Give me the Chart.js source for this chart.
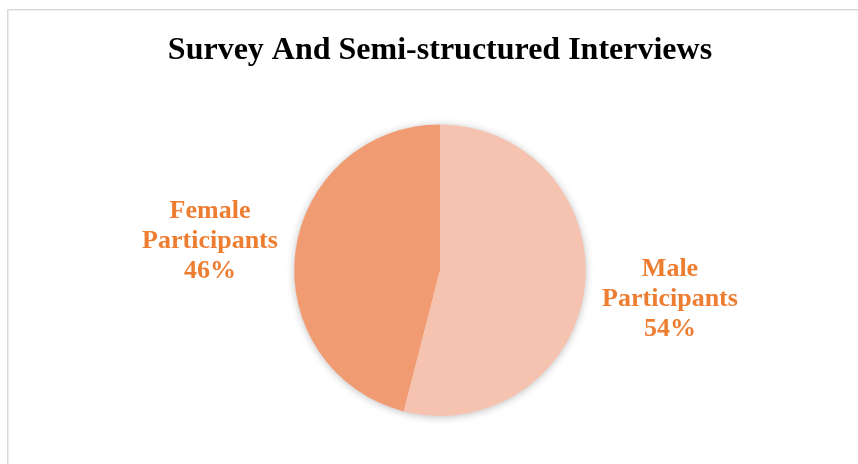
<!DOCTYPE html>
<html>
<head>
<meta charset="utf-8">
<script src="https://cdn.jsdelivr.net/npm/chart.js@4/dist/chart.umd.min.js"></script>
<style>
  html, body { margin: 0; padding: 0; background: #ffffff; }
  #wrap { position: relative; width: 858px; height: 464px; }
</style>
</head>
<body>
<div id="wrap"><canvas id="c" width="858" height="464"></canvas></div>
<script>
const chartTitle = "Survey And Semi-structured Interviews";
const categories = ["Male Participants", "Female Participants"];
const values = [54, 46];
const sliceColors = ["#F5C3B0", "#F09B72"];
const labelColor = "#ED7D31";

const frame = {
  id: "frame",
  beforeDraw(chart) {
    const ctx = chart.ctx;
    ctx.save();
    ctx.strokeStyle = "#D9D9D9";
    ctx.lineWidth = 1.5;
    ctx.strokeRect(7.75, 9.75, chart.width + 20, chart.height + 20);
    ctx.restore();
  }
};

const pieShadow = {
  id: "pieShadow",
  beforeDatasetsDraw(chart) {
    const arc = chart.getDatasetMeta(0).data[0];
    if (!arc) return;
    const ctx = chart.ctx;
    ctx.save();
    ctx.shadowColor = "rgba(0,0,0,0.28)";
    ctx.shadowBlur = 9;
    ctx.shadowOffsetX = 0;
    ctx.shadowOffsetY = 1;
    ctx.fillStyle = "#ffffff";
    ctx.beginPath();
    ctx.arc(arc.x, arc.y, arc.outerRadius - 0.5, 0, Math.PI * 2);
    ctx.fill();
    ctx.restore();
  }
};

const outsideLabels = {
  id: "outsideLabels",
  afterDatasetsDraw(chart, args, opts) {
    const meta = chart.getDatasetMeta(0);
    const ds = chart.data.datasets[0].data;
    const total = ds.reduce((a, b) => a + b, 0);
    const ctx = chart.ctx;
    ctx.save();
    ctx.fillStyle = opts.color;
    ctx.font = "bold " + opts.size + "px 'Liberation Serif', 'Times New Roman', serif";
    ctx.textAlign = "center";
    ctx.textBaseline = "middle";
    meta.data.forEach((arc, i) => {
      const mid = (arc.startAngle + arc.endAngle) / 2;
      const d = arc.outerRadius * opts.distance;
      const cx = arc.x + Math.cos(mid) * d;
      const cy = arc.y + Math.sin(mid) * d;
      const lines = chart.data.labels[i].split(" ");
      lines.push(Math.round(ds[i] / total * 100) + "%");
      const n = lines.length;
      lines.forEach((t, k) => {
        ctx.fillText(t, cx, cy + (k - (n - 1) / 2) * opts.lineHeight);
      });
    });
    ctx.restore();
  }
};

new Chart(document.getElementById("c"), {
  type: "pie",
  data: {
    labels: categories,
    datasets: [{
      data: values,
      backgroundColor: sliceColors,
      borderWidth: 0
    }]
  },
  options: {
    responsive: false,
    animation: false,
    layout: { padding: { left: 22, right: 0, top: 0, bottom: 48 } },
    plugins: {
      legend: { display: false },
      tooltip: { enabled: false },
      title: {
        display: true,
        text: chartTitle,
        color: "#000000",
        font: { family: "'Liberation Serif', 'Times New Roman', serif", size: 32, weight: "bold", lineHeight: 1.2 },
        padding: { top: 32, bottom: 54 }
      },
      outsideLabels: { color: labelColor, size: 26, lineHeight: 30, distance: 1.59 }
    }
  },
  plugins: [frame, pieShadow, outsideLabels]
});
</script>
</body>
</html>
